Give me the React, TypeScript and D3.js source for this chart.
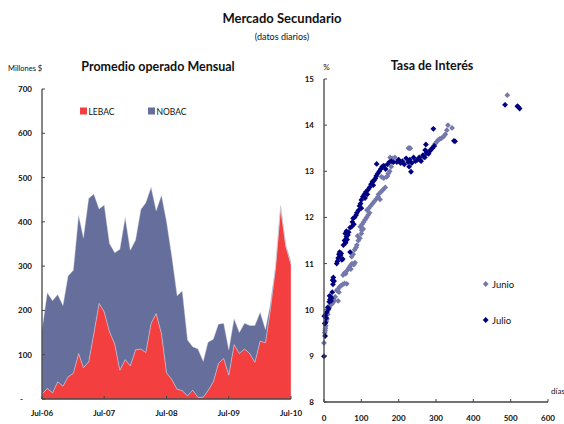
import React from "react";
import * as d3 from "d3";

// ---------- Data ----------
const monthLabels = ["Jul-06", "Jul-07", "Jul-08", "Jul-09", "Jul-10"];
const startMonth = new Date(2006, 6, 1);
const lebac = [11, 24, 14, 39, 29, 50, 58, 103, 71, 84, 148, 216, 197, 152, 124, 65, 89, 75, 111, 113, 105, 171, 193, 148, 59, 44, 22, 19, 7, 20, 4, 4, 19, 39, 80, 92, 54, 123, 103, 113, 103, 83, 131, 127, 200, 296, 432, 344, 304];
const nobac = [145, 216, 208, 197, 182, 228, 233, 312, 293, 369, 315, 213, 241, 199, 206, 273, 321, 261, 248, 315, 338, 307, 232, 312, 341, 277, 211, 225, 126, 98, 109, 81, 109, 96, 89, 79, 57, 58, 47, 58, 63, 83, 65, 30, 12, 3, 6, 4, 4];
const leftTicks = [0, 100, 200, 300, 400, 500, 600, 700];

const junio: [number, number][] = [
  [0, 9.28], [2, 9.5], [4, 9.6], [3, 9.55], [5, 9.65], [6, 9.75], [8, 9.8],
  [10, 9.9], [12, 10.0], [14, 10.05], [18, 10.1], [20, 10.12], [24, 10.15], [28, 10.2], [38, 10.19], [30, 10.28],
  [34, 10.42], [38, 10.45], [42, 10.5], [46, 10.52], [50, 10.55], [55, 10.57], [61, 10.56], [40, 10.38],
  [51, 10.75], [55, 10.8], [58, 10.78], [62, 10.85], [66, 10.9], [70, 10.95], [75, 11.0], [80, 10.98], [83, 11.02], [72, 10.88],
  [74, 11.15], [78, 11.2], [82, 11.3], [86, 11.35], [88, 11.4], [92, 11.5], [96, 11.55], [100, 11.65], [101, 11.72], [90, 11.6],
  [97, 11.8], [102, 11.85], [106, 11.9], [110, 11.95], [114, 12.0], [118, 12.05], [122, 12.1], [105, 11.75],
  [115, 12.16], [120, 12.2], [125, 12.25], [130, 12.3], [135, 12.35], [140, 12.4], [145, 12.45], [150, 12.39],
  [146, 12.5], [152, 12.55], [158, 12.6], [164, 12.65], [154, 12.88], [160, 12.85],
  [168, 12.88], [172, 12.95], [176, 13.0], [180, 13.1], [185, 13.2], [190, 13.3], [177, 13.3], [183, 13.28], [170, 12.9],
  [226, 13.5], [229, 13.5], [231, 13.5],
  [258, 13.24], [265, 13.3], [270, 13.35], [278, 13.4], [284, 13.46], [290, 13.5], [295, 13.55], [298, 13.6], [302, 13.64],
  [306, 13.68], [310, 13.7], [315, 13.72], [320, 13.75], [325, 13.8], [329, 13.89], [332, 14.0], [343, 13.94],
  [491, 14.65],
];

const julio: [number, number][] = [
  [0, 8.99], [3, 9.43], [2, 9.7], [4, 9.72], [1, 9.86], [3, 9.88], [6, 9.82],
  [8, 9.95], [10, 10.05], [12, 10.02], [14, 10.17], [16, 10.22], [18, 10.28], [20, 10.25], [15, 10.3], [19, 10.19], [22, 10.38],
  [23, 10.64], [25, 10.7], [27, 10.62], [24, 10.55],
  [34, 11.0], [36, 11.05], [38, 11.12], [40, 11.2], [42, 11.25], [44, 11.18], [46, 11.22], [48, 11.08], [50, 11.1],
  [70, 11.25], [52, 11.4], [55, 11.5], [58, 11.45], [60, 11.58], [62, 11.52], [57, 11.65], [60, 11.7], [64, 11.62], [66, 11.68],
  [70, 11.78], [74, 11.8], [76, 11.9], [78, 11.98], [82, 12.0], [80, 11.85],
  [86, 12.05], [88, 12.1], [92, 12.15], [95, 12.25], [100, 12.2], [98, 12.3],
  [100, 12.38], [104, 12.45], [108, 12.5], [110, 12.42], [112, 12.55], [116, 12.5],
  [118, 12.6], [122, 12.65], [126, 12.72], [130, 12.78], [134, 12.8], [138, 12.85], [132, 12.7],
  [140, 12.9], [144, 12.95], [148, 13.0], [152, 13.05], [156, 13.1], [160, 13.12], [165, 13.05], [170, 13.15], [175, 13.2],
  [141, 13.16], [180, 13.22], [186, 13.2],
  [195, 13.2], [200, 13.25], [205, 13.18], [210, 13.22], [215, 13.15], [220, 13.28], [225, 13.2], [230, 13.25], [235, 13.18],
  [240, 13.3], [245, 13.22], [233, 12.99], [228, 13.1],
  [250, 13.25], [255, 13.3], [260, 13.22], [265, 13.35], [270, 13.3], [273, 13.58], [275, 13.4], [280, 13.38], [285, 13.45],
  [290, 13.5], [295, 13.55], [271, 13.46],
  [293, 13.92], [351, 13.65], [348, 13.66],
  [485, 14.44], [518, 14.41], [521, 14.39], [524, 14.36],
];
const rightYTicks = [8, 9, 10, 11, 12, 13, 14, 15];
const rightXTicks = [0, 100, 200, 300, 400, 500, 600];

// ---------- Styles ----------
const FONT = "Lato, 'Open Sans', sans-serif";
const RED = "#F33F3F";
const BLUE = "#666F9B";
const JUNIO = "#7479AC";
const JULIO = "#000080";
const AXIS = "#444";

export default function App() {
  const months = lebac.map((_, i) => d3.timeMonth.offset(startMonth, i));
  const x = d3.scaleTime().domain([startMonth, d3.timeMonth.offset(startMonth, 48)]).range([42, 291]);
  const y = d3.scaleLinear().domain([0, 700]).range([399, 89]);

  const stackData = months.map((m, i) => ({ date: m, LEBAC: lebac[i], NOBAC: nobac[i] }));
  const series = d3.stack<any>().keys(["LEBAC", "NOBAC"])(stackData);
  const area = d3
    .area<any>()
    .x((d) => x(d.data.date))
    .y0((d) => y(d[0]))
    .y1((d) => y(d[1]));

  const rx = d3.scaleLinear().domain([0, 600]).range([324, 548]);
  const ry = d3.scaleLinear().domain([8, 15]).range([402, 79]);
  const diamond = (cx: number, cy: number, r = 2.9) =>
    `M${cx},${cy - r}L${cx + r},${cy}L${cx},${cy + r}L${cx - r},${cy}Z`;

  const yearTicks = monthLabels.map((_, i) => d3.timeMonth.offset(startMonth, i * 12));

  return (
    <svg width={564} height={424} style={{ position: "absolute", left: 0, top: 0, background: "#fff" }} fontFamily={FONT}>
      <rect width={564} height={424} fill="#fff" />
      {/* Titles */}
      <text x={282} y={23} textAnchor="middle" fontSize={13} fontWeight="bold" fill="#111">Mercado Secundario</text>
      <text x={282} y={40} textAnchor="middle" fontSize={9} fill="#111">(datos diarios)</text>

      {/* Left chart */}
      <text x={158} y={71} textAnchor="middle" fontSize={12.5} fontWeight="bold" fill="#111">Promedio operado Mensual</text>
      <text x={8} y={71} fontSize={7.5} fill="#111">Millones $</text>
      {series.map((s) => (
        <path key={s.key} d={area(s) || ""} fill={s.key === "LEBAC" ? RED : BLUE} stroke="#d9d9e6" strokeWidth={0.4} />
      ))}
      <line x1={42} x2={42} y1={89} y2={399} stroke={AXIS} strokeWidth={1.3} />
      <line x1={42} x2={291} y1={399} y2={399} stroke={AXIS} strokeWidth={1.3} />
      {leftTicks.map((t) => (
        <g key={t}>
          <line x1={42} x2={45} y1={y(t)} y2={y(t)} stroke={AXIS} />
          <text x={t === 0 ? 23 : 32} y={y(t) + 3} textAnchor="end" fontSize={8} fontWeight="bold" fill="#111">
            {t === 0 ? "-" : t}
          </text>
        </g>
      ))}
      {yearTicks.map((d, i) => (
        <g key={i}>
          <line x1={x(d)} x2={x(d)} y1={399} y2={396} stroke={AXIS} />
          <text x={x(d)} y={416} textAnchor="middle" fontSize={8} fontWeight="bold" fill="#111">{monthLabels[i]}</text>
        </g>
      ))}
      {/* Left legend */}
      <rect x={80} y={107.5} width={7} height={7} fill={RED} />
      <text x={88.5} y={114.5} fontSize={8.5} fill="#111">LEBAC</text>
      <rect x={148} y={107.5} width={7} height={7} fill={BLUE} />
      <text x={156.5} y={114.5} fontSize={8.5} fill="#111">NOBAC</text>

      {/* Right chart */}
      <text x={432} y={70} textAnchor="middle" fontSize={12.5} fontWeight="bold" fill="#111">Tasa de Interés</text>
      <text x={326.5} y={70} textAnchor="middle" fontSize={8} fill="#111">%</text>
      <text x={551} y={394} fontSize={8} fill="#111">días</text>
      {junio.map(([dx, dy], i) => (
        <path key={"jn" + i} d={diamond(rx(dx), ry(dy))} fill={JUNIO} />
      ))}
      {julio.map(([dx, dy], i) => (
        <path key={"jl" + i} d={diamond(rx(dx), ry(dy))} fill={JULIO} />
      ))}
      <line x1={324} x2={324} y1={79} y2={402} stroke={AXIS} strokeWidth={1.3} />
      <line x1={324} x2={548} y1={402} y2={402} stroke={AXIS} strokeWidth={1.3} />
      {rightYTicks.map((t) => (
        <g key={t}>
          <line x1={324} x2={327} y1={ry(t)} y2={ry(t)} stroke={AXIS} />
          <text x={314} y={ry(t) + 3} textAnchor="end" fontSize={8} fontWeight="bold" fill="#111">{t}</text>
        </g>
      ))}
      {rightXTicks.map((t) => (
        <g key={t}>
          <line x1={rx(t)} x2={rx(t)} y1={402} y2={399} stroke={AXIS} />
          <text x={rx(t)} y={421} textAnchor="middle" fontSize={8} fontWeight="bold" fill="#111">{t}</text>
        </g>
      ))}
      {/* Right legend */}
      <path d={diamond(485.7, 284)} fill={JUNIO} />
      <text x={492} y={288} fontSize={9.5} fill="#111">Junio</text>
      <path d={diamond(485.7, 320)} fill={JULIO} />
      <text x={492} y={324} fontSize={9.5} fill="#111">Julio</text>
    </svg>
  );
}
